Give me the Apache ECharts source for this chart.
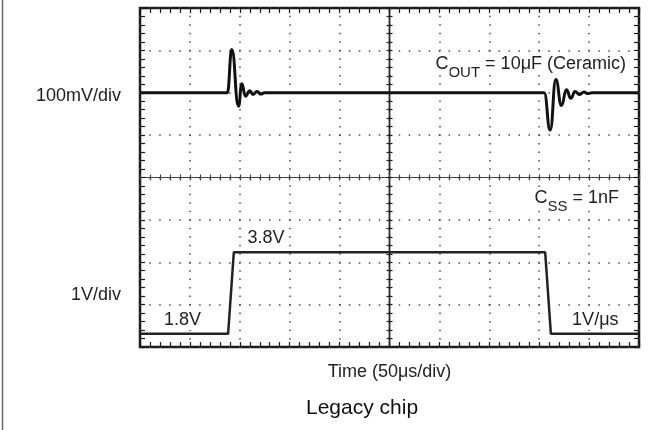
<!DOCTYPE html>
<html><head><meta charset="utf-8">
<script src="https://cdn.jsdelivr.net/npm/echarts@6/dist/echarts.min.js"></script>
<style>html,body{margin:0;padding:0;background:#fff}#c{width:662px;height:430px}</style>
</head><body><div id="c"></div>
<script>
// Output voltage transient (mV) vs time (µs)
const outputTime = [0, 84, 87.5, 92, 98.7, 102, 105.7, 110, 113.3, 117.3, 121, 125, 129, 400, 405, 411, 416.7, 422.3, 427.3, 431.7, 436, 440, 445, 448.3, 453.3, 458, 500];
const outputMv   = [0, 0, 0, 102, -32, 21, -8, 5, -4, 3, -3, 0, 0, 0, 0, -88, 31, -30, 7, -13, 3, -4, 1.5, -2, 0, 0, 0];
// Supply step (V) vs time (µs)
const stepTime  = [0, 88.3, 94, 406, 411.7, 500];
const stepVolts = [1.8, 1.8, 3.8, 3.8, 1.8, 1.8];
// Texts
const xName = 'Time (50μs/div)';
const chipTitle = 'Legacy chip';
const topScaleLabel = '100mV/div';
const bottomScaleLabel = '1V/div';

const font = '"Liberation Sans", Arial, Helvetica, sans-serif';
const ink = '#1a1a1a';
const dotCol = '#4a4a4a';

function frameX(pos, split) {
  return {type:'value', gridIndex:0, position:pos, min:-5, max:5, interval:1,
    axisLine:{show:false, onZero:false}, axisLabel:{show:false},
    axisTick:{show:true, inside:true, length:5, lineStyle:{color:ink, width:1.2}},
    minorTick:{show:true, splitNumber:5, length:5, lineStyle:{color:ink, width:1.2}},
    splitLine:{show:split, lineStyle:{color:dotCol, width:1.5, type:[1.5, 6.98], dashOffset:0.75}},
    minorSplitLine:{show:false}};
}
function frameY(pos, split) {
  return {type:'value', gridIndex:0, position:pos, min:-4, max:4, interval:1,
    axisLine:{show:false, onZero:false}, axisLabel:{show:false},
    axisTick:{show:true, inside:true, length:5, lineStyle:{color:ink, width:1.2}},
    minorTick:{show:true, splitNumber:5, length:5, lineStyle:{color:ink, width:1.2}},
    splitLine:{show:split, lineStyle:{color:dotCol, width:1.5, type:[1.5, 8.48], dashOffset:0.75}},
    minorSplitLine:{show:false}};
}
function crossX(pos) {
  return {type:'value', gridIndex:0, position:pos, min:-5, max:5, interval:1,
    axisLine:{show:true, onZero:true, onZeroAxisIndex:0, lineStyle:{color:'#444', width:1.2}},
    axisLabel:{show:false},
    axisTick:{show:true, inside:true, length:3, lineStyle:{color:'#444', width:1.2}},
    minorTick:{show:true, splitNumber:5, length:3, lineStyle:{color:'#444', width:1.2}},
    splitLine:{show:false}};
}
function crossY(pos) {
  return {type:'value', gridIndex:0, position:pos, min:-4, max:4, interval:1,
    axisLine:{show:true, onZero:true, onZeroAxisIndex:0, lineStyle:{color:'#222', width:1.4}},
    axisLabel:{show:false},
    axisTick:{show:true, inside:true, length:3, lineStyle:{color:'#222', width:1.2}},
    minorTick:{show:true, splitNumber:5, length:3, lineStyle:{color:'#222', width:1.2}},
    splitLine:{show:false}};
}

const xb = frameX('bottom', true);
xb.name = xName; xb.nameLocation = 'middle'; xb.nameGap = 16;
xb.nameTextStyle = {fontFamily:font, fontSize:18, color:'#222'};

const measureCtx = document.createElement('canvas').getContext('2d');
function textWidth(s, size) {
  measureCtx.font = size + 'px ' + font;
  return measureCtx.measureText(s).width;
}

function txt(x, y, text, align, size, bg) {
  const st = {text:text, align:align, verticalAlign:'middle', fontFamily:font, fontSize:size || 18, fill:'#222'};
  if (bg) { st.backgroundColor = '#fff'; st.padding = [1, 1]; }
  return {type:'text', x:x, y:y, z:100, style:st};
}
// right-aligned label with subscript: main + sub + rest
function subLabel(xRight, y, main, sub, rest) {
  const wRest = textWidth(rest, 18);
  const wSub = textWidth(sub, 15);
  return [
    txt(xRight, y, rest, 'right', 18, true),
    txt(xRight - wRest, y + 8, sub, 'right', 15, true),
    txt(xRight - wRest - wSub, y, main, 'right', 18, true)
  ];
}

const chart = echarts.init(document.getElementById('c'));
chart.setOption({
  animation:false,
  backgroundColor:'#fff',
  title:{text:chipTitle, left:306, top:398, padding:0,
    textStyle:{fontFamily:font, fontSize:21, fontWeight:'normal', color:'#111'}},
  grid:{left:140, top:8, width:499, height:339, show:true, borderColor:'#1a1a1a', borderWidth:2.5, backgroundColor:'transparent'},
  xAxis:[xb, frameX('top', false), crossX('bottom'), crossX('top'),
    {type:'value', gridIndex:0, min:0, max:500, show:false}],
  yAxis:[frameY('left', true), frameY('right', false), crossY('left'), crossY('right'),
    {type:'value', gridIndex:0, min:-600, max:200, show:false},
    {type:'value', gridIndex:0, min:1.476, max:9.795, show:false}],
  series:[
    {type:'line', xAxisIndex:4, yAxisIndex:4, data:outputTime.map((t,i)=>[t, outputMv[i]]),
     showSymbol:false, smooth:0.5, smoothMonotone:'x', lineStyle:{color:'#111', width:3}, z:5},
    {type:'line', xAxisIndex:4, yAxisIndex:5, data:stepTime.map((t,i)=>[t, stepVolts[i]]),
     showSymbol:false, lineStyle:{color:'#222', width:2.5}, z:5}
  ],
  graphic:[
    {type:'line', shape:{x1:2.5, y1:0, x2:2.5, y2:430}, style:{stroke:'#666', lineWidth:1.5}},
    txt(121, 96.5, topScaleLabel, 'right'),
    txt(121, 295.5, bottomScaleLabel, 'right'),
    txt(246.5, 238.5, '3.8V', 'left', 18, true),
    txt(163, 320, '1.8V', 'left', 18, true),
    txt(619.5, 320, '1V/μs', 'right', 18, true)
  ].concat(subLabel(627, 64.5, 'C', 'OUT', ' = 10μF (Ceramic)'))
   .concat(subLabel(620, 198.5, 'C', 'SS', ' = 1nF'))
});
</script></body></html>
